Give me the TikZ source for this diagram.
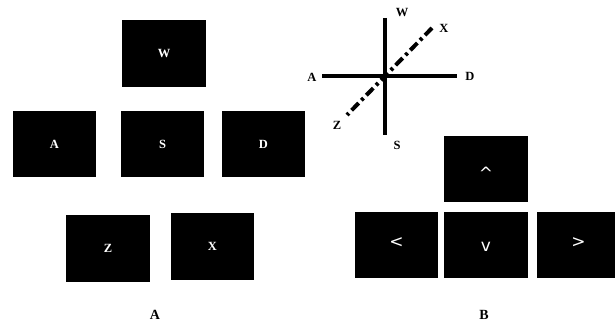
\documentclass[tikz,border=0pt]{standalone}
\usepackage{fontspec}
\setmainfont{Liberation Serif}
\newfontfamily\keysans{DejaVu Sans}
\begin{document}
\begin{tikzpicture}[x=1pt,y=1pt,
  keybox/.style={fill=black,draw=none,minimum width=83pt,minimum height=66pt,inner sep=0pt,
    text=white,font=\bfseries\fontsize{12.5}{13}\selectfont},
  arrowkey/.style={keybox,font=\keysans\fontsize{17}{17}\selectfont},
  axislabel/.style={font=\bfseries\fontsize{12.5}{13}\selectfont,inner sep=0pt},
  caption/.style={font=\bfseries\fontsize{14}{15}\selectfont,inner sep=0pt},
  axisline/.style={line width=3.5pt},
  diagline/.style={line width=4pt,dash pattern=on 10pt off 4pt on 3pt off 4pt}]
\useasboundingbox (0,0) rectangle (615,329);
% Panel A: keys
\node[keybox,minimum width=84pt,minimum height=67pt] (kW) at (164,275.5) {W};
\node[keybox] (kA) at (54.5,185) {A};
\node[keybox] (kS) at (162.5,185) {S};
\node[keybox] (kD) at (263.5,185) {D};
\node[keybox,minimum width=84pt,minimum height=67pt] (kZ) at (108,80.5) {Z};
\node[keybox,minimum height=67pt] (kX) at (212.5,82.5) {X};
\node[caption] (capA) at (155,14) {A};
% Cross
\coordinate (vt) at (385,311);
\coordinate (vb) at (385,194);
\coordinate (hl) at (322,253);
\coordinate (hr) at (457,253);
\coordinate (dz) at (347,214);
\coordinate (dx) at (432,301);
\draw[axisline] (vt) -- (vb);
\draw[axisline] (hl) -- (hr);
\draw[diagline] (dx) -- (dz);
\node[axislabel] (lW) at (402,316) {W};
\node[axislabel] (lX) at (444,301) {X};
\node[axislabel] (lA) at (312,252) {A};
\node[axislabel] (lD) at (470,253) {D};
\node[axislabel] (lZ) at (337,204) {Z};
\node[axislabel] (lS) at (397,184) {S};
% Panel B: arrow keys
\node[arrowkey,minimum width=84pt] (kUp) at (486,160) {\smash{\raisebox{-11pt}{\textasciicircum}}};
\node[arrowkey] (kLeft) at (396.5,84) {\smash{\raisebox{-3pt}{<}}};
\node[arrowkey,minimum width=84pt] (kDown) at (486,84) {\smash{\raisebox{-6.5pt}{v}}};
\node[arrowkey] (kRight) at (578.5,84) {\smash{\raisebox{-3pt}{>}}};
\node[caption] (capB) at (484,14) {B};
\end{tikzpicture}
\end{document}
